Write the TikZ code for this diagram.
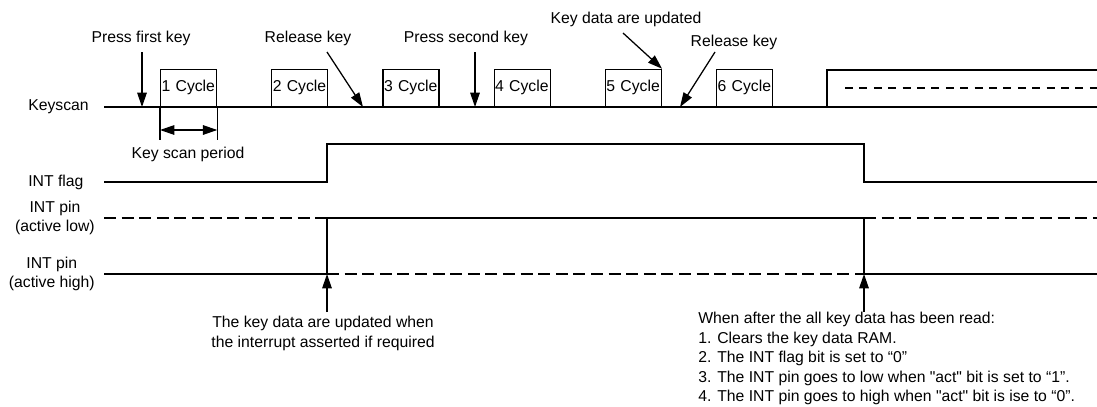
\documentclass[tikz,border=0pt]{standalone}
\usepackage{fontspec}
\newfontfamily\arialike{Liberation Sans}
\usetikzlibrary{arrows.meta}

\begin{document}
\begin{tikzpicture}[x=0.25mm,y=-0.25mm,
  sig/.style={line width=0.9pt},
  dsh/.style={line width=0.9pt,dash pattern=on 3mm off 1.4mm},
  arr/.style={line width=0.9pt,-{Triangle[length=3.6mm,width=2.4mm]}},
  dblarr/.style={line width=0.9pt,{Triangle[length=3.6mm,width=2.4mm]}-{Triangle[length=3.6mm,width=2.4mm]}},
  lbl/.style={inner sep=0pt,font=\arialike\fontsize{11.2}{13.9}\selectfont},
  cyc/.style={lbl,draw,line width=0.9pt,anchor=south west,text width=13.5mm,align=left,inner xsep=0.25mm,minimum height=9.25mm}]
\useasboundingbox (0,0) rectangle (1097,406);

\node[lbl,anchor=west] (ks) at (28,107) {Keyscan};
\node[lbl,anchor=west] (flag) at (28,182) {INT flag};
\node[lbl,anchor=east,align=center] (pinlo) at (95,218) {INT pin\\(active low)};
\node[lbl,anchor=east,align=center] (pinhi) at (95,274) {INT pin\\(active high)};

\draw[sig] (104,107) -- (827,107) -- (827,70) -- (1097,70);
\draw[sig] (827,107) -- (1097,107);
\draw[line width=0.9pt,dash pattern=on 2mm off 1.6mm] (845,88) -- (1097,88);

\foreach \n in {1,...,6}
  \node[cyc] (cyc\n) at ({160+111.2*(\n-1)},107) {\n~Cycle};

\draw[sig] (cyc1.south west) -- ++(0,33);
\draw[sig] (cyc1.south east) -- ++(0,33);
\draw[dblarr] (cyc1.south west |- 0,130) -- (cyc1.south east |- 0,130);
\node[lbl,anchor=base] (period) at (188,158) {Key scan period};

\draw[sig] (104,182) -- (327,182) -- (327,144) -- (864,144) -- (864,182) -- (1097,182);

\draw[dsh] (104,218) -- (327,218);
\draw[sig] (327,274) -- (327,218) -- (864,218) -- (864,274);
\draw[dsh] (864,218) -- (1097,218);
\draw[sig] (104,274) -- (327,274);
\draw[dsh] (327,274) -- (864,274);
\draw[sig] (864,274) -- (1097,274);

\node[lbl,anchor=base] (press1) at (141,42) {Press first key};
\node[lbl,anchor=base] (rel1) at (308,42) {Release key};
\node[lbl,anchor=base] (press2) at (466,42) {Press second key};
\node[lbl,anchor=base] (upd) at (626,23) {Key data are updated};
\node[lbl,anchor=base] (rel2) at (734,46) {Release key};

\coordinate (press1tip) at (142,107);
\coordinate (rel1tip) at (363,107);
\coordinate (press2tip) at (475,107);
\coordinate (rel2tip) at (680,107);
\draw[arr] (press1.base) ++(1,10) -- (press1tip);
\draw[arr] (rel1.base) ++(19,10) -- (rel1tip);
\draw[arr] (press2.base) ++(9,10) -- (press2tip);
\draw[arr] (upd.base) ++(-3,10) -- (cyc5.north east);
\draw[arr] (rel2.base) ++(-19,6) -- (rel2tip);

\coordinate (assert) at (327,274);
\coordinate (clear) at (864,274);
\node[lbl,anchor=north,align=center,inner ysep=1mm] (note1) at (323,312)
  {The key data are updated when\\the interrupt asserted if required};
\draw[arr] (note1.north -| assert) -- (assert);
\node[lbl,anchor=north west,align=left] (note2) at (698,312)
  {When after the all key data has been read:\\
   1. Clears the key data RAM.\\
   2. The INT flag bit is set to “0”\\
   3. The INT pin goes to low when "act" bit  is set to “1”.\\
   4. The INT pin goes to high when "act" bit is ise to “0”.};
\draw[arr] (note2.north -| clear) -- (clear);
\end{tikzpicture}
\end{document}
